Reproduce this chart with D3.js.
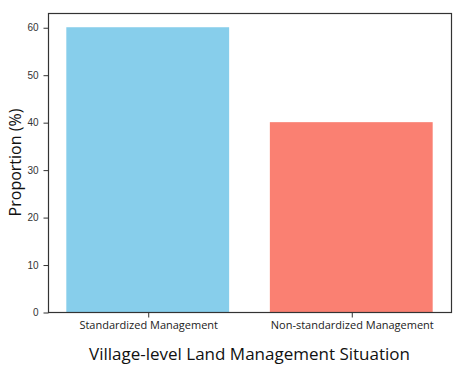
<!DOCTYPE html>
<html>
<head>
<meta charset="utf-8">
<script src="https://cdn.jsdelivr.net/npm/d3@7"></script>
<style>
  body { margin: 0; background: #fff; }
  svg { display: block; }
</style>
</head>
<body>
<svg id="chart" width="466" height="366"></svg>
<script>
var categories = ["Standardized Management", "Non-standardized Management"];
var values = [60, 40];
var colors = ["#87ceeb", "#fa8072"];
var yTicks = [0, 10, 20, 30, 40, 50, 60];

var margin = { left: 48, top: 13, right: 15, bottom: 54 },
    width = 466 - margin.left - margin.right,
    height = 366 - margin.top - margin.bottom;

var svg = d3.select("#chart");
var g = svg.append("g")
    .attr("transform", "translate(" + margin.left + "," + margin.top + ")");

// matplotlib-like limits: bars at 0,1 width 0.8, 5% margin
var x = d3.scaleLinear().domain([-0.49, 1.49]).range([0, width]);
var y = d3.scaleLinear().domain([0, 63]).range([height, 0]);

g.selectAll("rect.bar")
    .data(values)
    .enter()
    .append("rect")
        .attr("class", "bar")
        .attr("x", function (d, i) { return x(i - 0.4); })
        .attr("width", function (d, i) { return x(i + 0.4) - x(i - 0.4); })
        .attr("y", function (d) { return y(d); })
        .attr("height", function (d) { return y(0) - y(d); })
        .attr("fill", function (d, i) { return colors[i]; });

// frame
g.append("rect")
    .attr("x", 0.5).attr("y", 0.5)
    .attr("width", width).attr("height", height)
    .attr("fill", "none")
    .attr("stroke", "#333")
    .attr("stroke-width", 1.2);

// y axis
var yAxis = g.append("g")
    .attr("transform", "translate(0.5,0.5)")
    .call(d3.axisLeft(y).tickValues(yTicks).tickSize(5).tickPadding(5));
yAxis.select(".domain").remove();
yAxis.selectAll("line").attr("stroke", "#333");
yAxis.selectAll("text")
    .attr("fill", "#333")
    .style("font-family", "'Liberation Sans', Arial, sans-serif")
    .style("font-size", "10px");

// x axis
var xAxis = g.append("g")
    .attr("transform", "translate(0.5," + (height + 0.5) + ")")
    .call(d3.axisBottom(x).tickValues([0, 1]).tickSize(5).tickPadding(4)
        .tickFormat(function (d) { return categories[d]; }));
xAxis.select(".domain").remove();
xAxis.selectAll("line").attr("stroke", "#333");
xAxis.selectAll("text")
    .attr("fill", "#222")
    .style("font-family", "'Open Sans', sans-serif")
    .style("font-size", "11px");

// titles
svg.append("text")
    .attr("x", margin.left + width / 2)
    .attr("y", 360)
    .attr("text-anchor", "middle")
    .style("font-family", "'Open Sans', sans-serif")
    .style("font-size", "17px")
    .attr("fill", "#111")
    .text("Village-level Land Management Situation");

svg.append("text")
    .attr("transform", "translate(21," + (margin.top + height / 2) + ") rotate(-90)")
    .attr("text-anchor", "middle")
    .style("font-family", "'Open Sans', sans-serif")
    .style("font-size", "16px")
    .attr("fill", "#111")
    .text("Proportion (%)");
</script>
</body>
</html>
